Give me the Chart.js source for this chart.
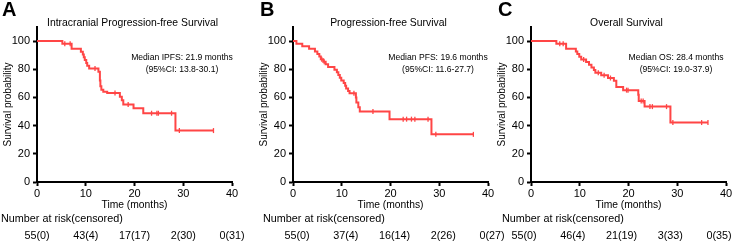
<!DOCTYPE html>
<html>
<head>
<meta charset="utf-8">
<script src="https://cdn.jsdelivr.net/npm/chart.js@4.4.1/dist/chart.umd.min.js"></script>
<style>
  body { margin: 0; background: #fff; }
  #wrap { position: relative; width: 740px; height: 242px; overflow: hidden; }
  .panel { position: absolute; top: 0; width: 254px; height: 242px; }
</style>
</head>
<body>
<div id="wrap">
  <div class="panel" style="left:0px"><canvas id="chartA"></canvas></div>
  <div class="panel" style="left:256px"><canvas id="chartB"></canvas></div>
  <div class="panel" style="left:494px"><canvas id="chartC"></canvas></div>
</div>
<script>
const FONT = '"Liberation Sans", Arial, Helvetica, sans-serif';
const RED = '#ff4545';

const timeTicks = [0, 10, 20, 30, 40];
const survTicks = [0, 20, 40, 60, 80, 100];

// A - intracranial PFS (step times / survival %)
const ipfsTimes = [0, 5.2, 7.1, 9.0, 9.4, 9.6, 9.8, 10.1, 10.3, 10.7, 12.6, 12.9, 13.0, 13.2, 13.6, 14.4, 17.0, 17.4, 17.7, 19.8, 21.8, 28.4, 36.2];
const ipfsSurv = [100, 98.2, 94.5, 92.5, 90.5, 88.5, 86.5, 84.5, 82.5, 80.5, 78.3, 72, 68, 65.5, 64, 63.2, 60.5, 58, 55, 52.3, 48.8, 36.5, 36.5];
const ipfsCensor = [5.7, 6.8, 11.9, 16.0, 18.7, 23.5, 24.6, 24.9, 27.6, 29.2, 36.2];
const ipfsRisk = ['55(0)', '43(4)', '17(17)', '2(30)', '0(31)'];

// B - PFS
const pfsTimes = [0, 0.7, 1.9, 3.3, 4.5, 5.0, 5.4, 5.7, 6.2, 6.7, 7.2, 8.5, 9.0, 9.3, 9.6, 9.9, 10.4, 10.7, 10.9, 11.3, 11.6, 12.9, 13.0, 13.4, 13.7, 19.8, 28.4, 37.0];
const pfsSurv = [100, 98.2, 96.4, 94.6, 92.7, 90.9, 89.0, 87.2, 85.3, 83.5, 81.6, 79.7, 77.8, 75.9, 74.0, 72.1, 70.2, 68.3, 66.4, 64.5, 63.0, 60.0, 56.5, 53.0, 50.1, 44.6, 33.8, 33.8];
const pfsCensor = [5.9, 6.4, 12.5, 16.4, 22.6, 23.3, 24.3, 25.0, 27.7, 29.3, 37.0];
const pfsRisk = ['55(0)', '37(4)', '16(14)', '2(26)', '0(27)'];

// C - OS
const osTimes = [0, 5.2, 7.2, 9.2, 9.5, 9.9, 10.3, 11.3, 11.9, 12.4, 12.9, 13.2, 14.4, 15.8, 17.0, 17.5, 18.9, 22.0, 22.1, 23.3, 28.6, 36.3];
const osSurv = [100, 98.2, 94.5, 92.6, 90.8, 88.9, 87.0, 85.1, 83.2, 81.3, 79.4, 77.6, 75.7, 73.8, 71.9, 67.5, 65.2, 62, 57.5, 53.5, 42.2, 42.2];
const osCensor = [5.9, 6.6, 10.8, 13.8, 15.0, 16.3, 19.6, 19.9, 22.6, 23.0, 24.4, 24.9, 27.8, 29.1, 35.0, 36.3];
const osRisk = ['55(0)', '46(4)', '21(19)', '3(33)', '0(35)'];

// survival value at time t (for placing censor ticks on the curve)
function survAt(times, surv, t) {
    let s = surv[0];
    for (let i = 0; i < times.length; i++) {
        if (times[i] <= t) s = surv[i];
    }
    return s;
}

// letters, titles, median text and the risk table
const annotate = {
    id: 'annotate',
    afterDraw(chart, args, o) {
        const { ctx, chartArea, scales: { x } } = chart;
        const mid = (chartArea.left + chartArea.right) / 2;
        ctx.save();
        ctx.fillStyle = '#000';
        ctx.textBaseline = 'middle';

        ctx.font = 'bold 20px ' + FONT;
        ctx.textAlign = 'left';
        ctx.fillText(o.letter, o.letterX, 10.5);

        ctx.font = '10.4px ' + FONT;
        ctx.textAlign = 'center';
        ctx.fillText(o.title, mid - 2, 23);

        ctx.font = '8.6px ' + FONT;
        ctx.fillText(o.median[0], chartArea.left + 145, 58);
        ctx.fillText(o.median[1], chartArea.left + 145, 69.5);

        ctx.font = '10.8px ' + FONT;
        ctx.textAlign = 'left';
        ctx.fillText('Number at risk(censored)', o.riskX, 219);
        ctx.textAlign = 'center';
        o.risk.forEach((r, i) => {
            ctx.fillText(r, x.getPixelForValue(timeTicks[i]) + o.riskShift, 236);
        });
        ctx.restore();
    }
};

function buildKmChart(id, times, surv, censor, opts) {
    const ctx = document.getElementById(id).getContext('2d');
    return new Chart(ctx, {
        type: 'line',
        data: {
            datasets: [{
                data: times.map((t, i) => ({ x: t, y: surv[i] })),
                borderColor: RED,
                borderWidth: 2,
                stepped: 'before',
                pointRadius: 0,
                fill: false
            }, {
                data: censor.map(t => ({ x: t, y: survAt(times, surv, t) })),
                showLine: false,
                pointStyle: 'line',
                rotation: 90,
                pointRadius: 2.5,
                borderColor: RED,
                borderWidth: 1.3
            }]
        },
        options: {
            responsive: true,
            maintainAspectRatio: false,
            animation: false,
            layout: { padding: { top: 27, right: 22, left: 0, bottom: 0 } },
            scales: {
                x: {
                    type: 'linear',
                    min: 0,
                    max: 40,
                    afterBuildTicks: s => { s.ticks = timeTicks.map(v => ({ value: v })); },
                    afterFit: s => { s.height = 60; },
                    border: { display: true, color: '#000', width: 2 },
                    grid: { drawOnChartArea: false, tickLength: 4, tickWidth: 2, tickColor: '#000' },
                    ticks: { color: '#000', padding: 1, maxRotation: 0, font: { family: FONT, size: 11 } },
                    title: {
                        display: true, text: 'Time (months)', color: '#000',
                        font: { family: FONT, size: 10.3 }, padding: { top: 0, bottom: 31 }
                    }
                },
                y: {
                    min: 0,
                    max: 110,
                    afterBuildTicks: s => { s.ticks = survTicks.map(v => ({ value: v })); },
                    afterFit: s => { s.width = 37; },
                    border: { display: true, color: '#000', width: 2 },
                    grid: { drawOnChartArea: false, tickLength: 4, tickWidth: 2, tickColor: '#000' },
                    ticks: { color: '#000', padding: 3, font: { family: FONT, size: 11 } },
                    title: {
                        display: true, text: 'Survival probability', color: '#000',
                        font: { family: FONT, size: 10 }, padding: { top: 2, bottom: 0 }
                    }
                }
            },
            plugins: {
                legend: { display: false },
                tooltip: { enabled: false },
                annotate: opts
            }
        },
        plugins: [annotate]
    });
}

buildKmChart('chartA', ipfsTimes, ipfsSurv, ipfsCensor, {
    letter: 'A', letterX: 2,
    title: 'Intracranial Progression-free Survival',
    median: ['Median IPFS: 21.9 months', '(95%CI: 13.8-30.1)'],
    risk: ipfsRisk, riskX: 1, riskShift: 0
});
buildKmChart('chartB', pfsTimes, pfsSurv, pfsCensor, {
    letter: 'B', letterX: 4,
    title: 'Progression-free Survival',
    median: ['Median PFS: 19.6 months', '(95%CI: 11.6-27.7)'],
    risk: pfsRisk, riskX: 7, riskShift: 4
});
buildKmChart('chartC', osTimes, osSurv, osCensor, {
    letter: 'C', letterX: 4,
    title: 'Overall Survival',
    median: ['Median OS: 28.4 months', '(95%CI: 19.0-37.9)'],
    risk: osRisk, riskX: 8, riskShift: -7
});
</script>
</body>
</html>
